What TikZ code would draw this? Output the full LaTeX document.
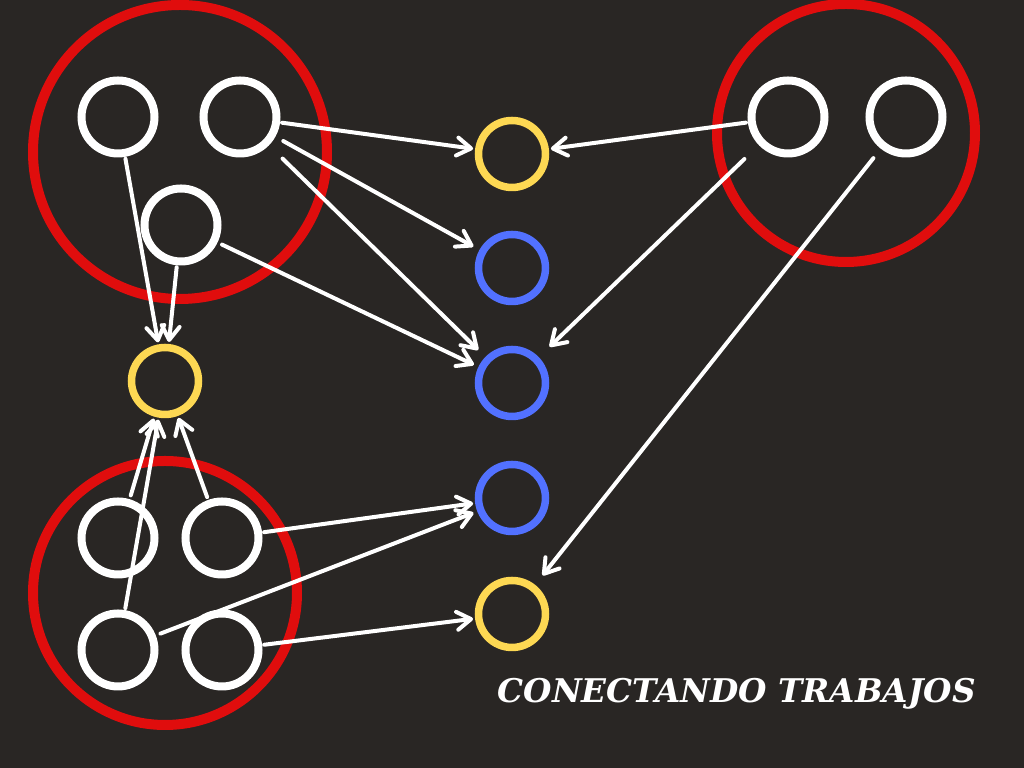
\documentclass[tikz,border=0pt]{standalone}
\usepackage{graphicx}
\usepackage{fontspec}
\setmainfont{DejaVu Serif}
\usetikzlibrary{arrows.meta}
\definecolor{boardbg}{HTML}{292624}
\definecolor{groupred}{HTML}{E00D0D}
\definecolor{jobyellow}{HTML}{FDD853}
\definecolor{jobblue}{HTML}{5271FF}

\begin{document}
\begin{tikzpicture}[
    group/.style={circle, draw=groupred, line width=0.10cm, inner sep=0pt},
    worker/.style={circle, draw=white, line width=0.08cm, minimum size=0.73cm, inner sep=0pt},
    job/.style={circle, line width=0.075cm, minimum size=0.67cm, inner sep=0pt},
    link/.style={white, line width=0.4mm, line cap=round,
        -{Straight Barb[length=1.4mm, width=1.8mm, round]}}
]
    % Background
    \fill[boardbg] (0,0) rectangle (10.24,7.68);
    \useasboundingbox (0,0) rectangle (10.24,7.68);

    % Groups
    \node[group, minimum size=2.94cm] (gtl) at (1.80,6.16) {};
    \node[group, minimum size=2.64cm] (gbl) at (1.65,1.75) {};
    \node[group, minimum size=2.58cm] (gtr) at (8.46,6.35) {};

    % Workers
    \foreach \name/\x/\y in {
        a1/1.18/6.51, a2/2.40/6.51, a3/1.81/5.43,
        b1/1.18/2.30, b2/2.22/2.30, b3/1.18/1.18, b4/2.22/1.18,
        c1/7.88/6.51, c2/9.06/6.51%
    } {
        \node[worker] (\name) at (\x,\y) {};
    }

    % Jobs
    \node[job, draw=jobyellow] (y0) at (1.65,3.87) {};
    \foreach \name/\y/\col in {
        m1/6.14/jobyellow, m2/5.00/jobblue, m3/3.85/jobblue,
        m4/2.70/jobblue, m5/1.54/jobyellow%
    } {
        \node[job, draw=\col] (\name) at (5.12,\y) {};
    }

    % Connections
    \foreach \from/\to/\ga/\gb in {
        a2/m1/0.2/0.2, a2/m2/0.9/0.7, a2/m3/1.9/1.0, a3/m3/0.5/0.5,
        a1/y0/0.2/0.2, a3/y0/0.2/0.2,
        c1/m1/0.2/0.2, c1/m3/2.0/1.5, c2/m5/1.2/1.2,
        b1/y0/0.4/0.2, b3/y0/0.2/0.2, b2/y0/0.3/0.2,
        b2/m4/0.2/0.2, b3/m4/0.5/0.4, b4/m5/0.2/0.2%
    } {
        \draw[link, shorten <=\ga mm, shorten >=\gb mm] (\from) -- (\to);
    }

    % Title
    \node[anchor=base west, inner sep=0pt, text=white, font=\bfseries\itshape] (title) at (4.97,0.65)
        {\resizebox{4.78cm}{!}{CONECTANDO TRABAJOS}};
\end{tikzpicture}
\end{document}
